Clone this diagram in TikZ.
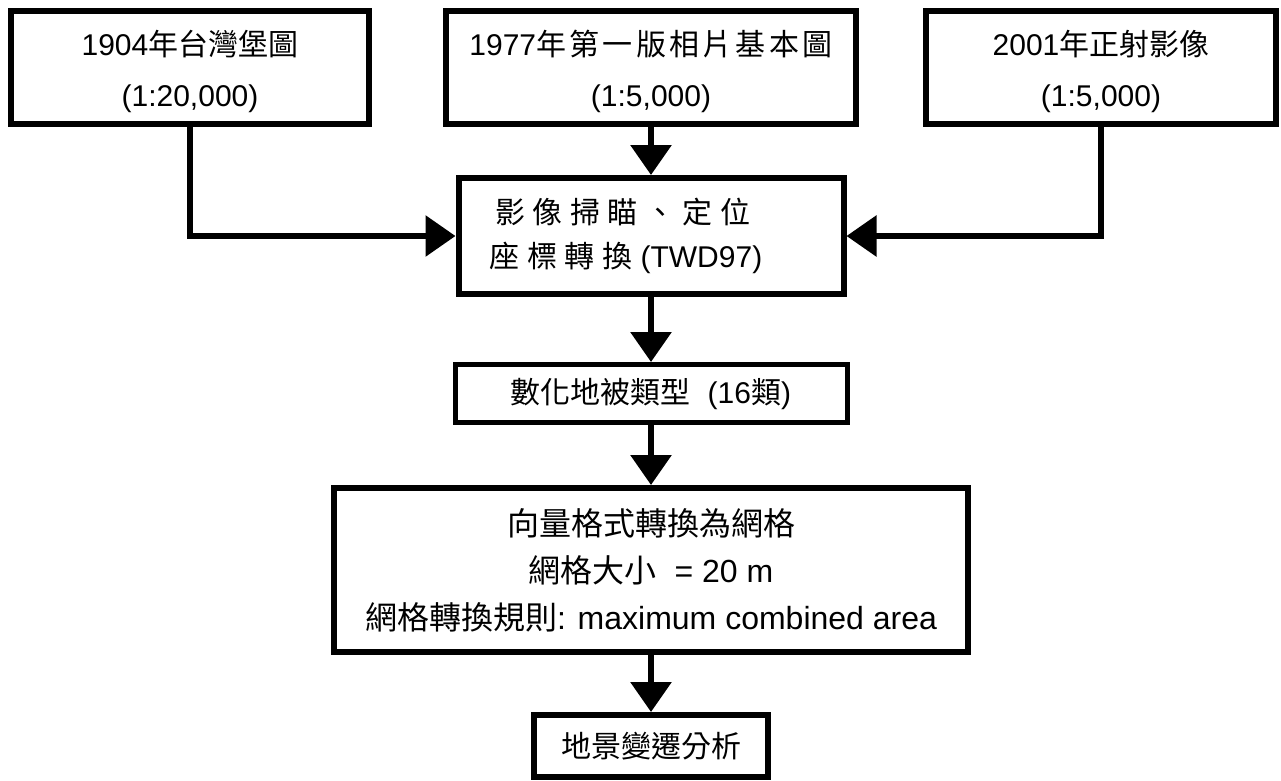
\documentclass[tikz,border=0pt]{standalone}
\usepackage{fontspec}
\setmainfont{Liberation Sans}
\newfontfamily\cjk{Noto Sans CJK TC}
\newfontfamily\cjkw{Noto Sans CJK TC}[LetterSpace=25]
\newfontfamily\cjkm{Noto Sans CJK TC}[LetterSpace=11]
\usetikzlibrary{arrows.meta}
\tikzset{
  box/.style={draw, line width=6pt, fill=white, inner sep=0pt, align=center,
    font=\fontsize{30}{48}\selectfont},
  topbox/.style={box, minimum height=113pt, font=\fontsize{30}{51}\selectfont},
  conn/.style={line width=6pt, -{Triangle[width=40pt,length=30pt]}},
}
\newcommand{\topstrut}{\rule{0pt}{33pt}}
\begin{document}
\begin{tikzpicture}[x=1pt,y=-1pt]
\useasboundingbox (0,0) rectangle (1281,780);
\node[topbox, minimum width=358pt] (b1) at (190,67.5)
  {\topstrut 1904{\cjk 年台灣堡圖}\\(1:20,000)};
\node[topbox, minimum width=410pt] (b2) at (651,67.5)
  {\topstrut 1977{\cjkm 年第一版相片基本圖}\\(1:5,000)};
\node[topbox, minimum width=350pt] (b3) at (1101,67.5)
  {\topstrut 2001{\cjk 年正射影像}\\(1:5,000)};
\node[box, minimum width=385pt, minimum height=116pt,
  font=\fontsize{30}{44}\selectfont] (twd) at (651,236)
  {{\cjkw 影像掃瞄、定位}\hspace*{56pt}\\{\cjkw 座標轉換} (TWD97)\hspace*{50pt}};
\node[box, line width=5pt, minimum width=392pt, minimum height=58pt] (dig) at (651,393.5)
  {{\cjk 數化地被類型}\ \ (16{\cjk 類})};
\node[box, minimum width=634pt, minimum height=164pt,
  font=\fontsize{32}{47}\selectfont] (grid) at (651,570)
  {{\cjk 向量格式轉換為網格}\\{\cjk 網格大小} \ = 20 m\\{\cjk 網格轉換規則}: maximum combined area};
\node[box, minimum width=234pt, minimum height=62pt] (fin) at (651,746)
  {{\cjk 地景變遷分析}};
\draw[conn] (b2.south) -- (twd.north);
\draw[conn] (b1.south) |- (twd.west);
\draw[conn] (b3.south) |- (twd.east);
\draw[conn] (twd.south) -- (dig.north);
\draw[conn] (dig.south) -- (grid.north);
\draw[conn] (grid.south) -- (fin.north);
\end{tikzpicture}
\end{document}
